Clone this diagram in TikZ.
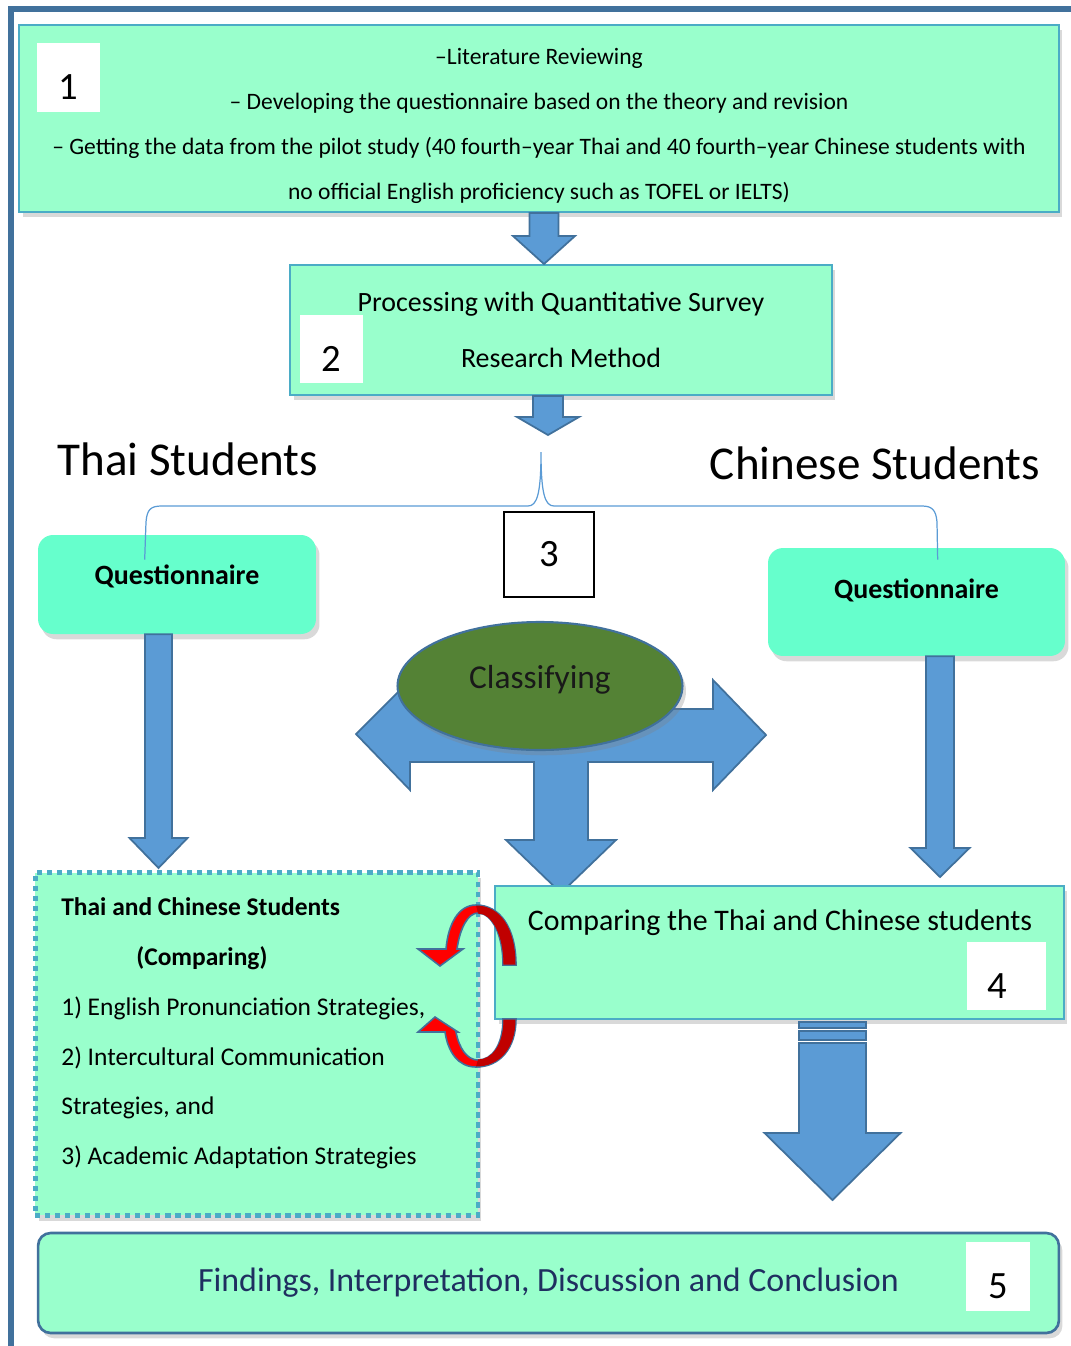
\documentclass[tikz,border=0pt]{standalone}
\usepackage{fontspec}
\setmainfont{Carlito}
\usetikzlibrary{shapes.geometric,shadows,calc,positioning}

\definecolor{mint}{HTML}{99FFCC}
\definecolor{aqua}{HTML}{66FFCC}
\definecolor{edgeblue}{HTML}{4BACC6}
\definecolor{steel}{HTML}{41719C}
\definecolor{arrowblue}{HTML}{5B9BD5}
\definecolor{leaf}{HTML}{548235}
\definecolor{navy}{HTML}{1F2F60}
\definecolor{loopred}{HTML}{FF0000}
\definecolor{loopdark}{HTML}{C00000}

\tikzset{
	softshadow/.style={drop shadow={opacity=0.3, shadow xshift=2pt, shadow yshift=-3pt}},
	stagebox/.style={draw=edgeblue, line width=1.1pt, fill=mint, softshadow},
	askbox/.style={fill=aqua, rounded corners=0.3cm, softshadow},
	numbox/.style={fill=white, inner sep=0pt},
	numtext/.style={font=\fontsize{22}{22}\selectfont, yshift=-0.2cm},
	groupfont/.style={font=\fontsize{26.8}{26.8}\selectfont},
	askfont/.style={font=\fontsize{15.9}{15.9}\selectfont\bfseries},
	blockarrow/.style={draw=steel, line width=1pt, fill=arrowblue},
	bracket/.style={draw=arrowblue, line width=0.7pt},
	loop/.style={draw=steel, line width=0.9pt, fill=loopred}
}

% vertical block arrow: from, to, shaft half width, head half width, head length
\newcommand{\blockdown}[5]{%
	\draw[blockarrow] ($(#1)+(-#3,0)$) -- ($(#2)+(-#3,-#5)$) -- ($(#2)+(-#4,-#5)$) -- (#2)
		-- ($(#2)+(#4,-#5)$) -- ($(#2)+(#3,-#5)$) -- ($(#1)+(#3,0)$) -- cycle;}

\begin{document}
\begin{tikzpicture}[x=0.02cm, y=-0.02cm]
	\useasboundingbox (0,0) rectangle (1071,1346);
	\draw[steel, line width=3pt] (11,1346) -- (11,9) -- (1071,9);

	% stage 1
	\node[stagebox, minimum width=20.8cm, minimum height=3.74cm] (box1) at (539,118.5) {};
	\node[font=\fontsize{13.4}{25.7}\selectfont, align=center] (t1) at (539,126)
		{–Literature Reviewing\\ – Developing the questionnaire based on the theory and revision\\ – Getting the data from the pilot study (40 fourth–year Thai and 40 fourth–year Chinese students with\\ no official English proficiency such as TOFEL or IELTS)};
	\node[numbox, minimum width=1.26cm, minimum height=1.38cm, label={[numtext]center:1}] (n1) at (68.5,77.5) {};

	% stage 2
	\node[stagebox, minimum width=10.84cm, minimum height=2.6cm, align=center, font=\fontsize{15.9}{31.7}\selectfont] (box2) at (561,330)
		{Processing with Quantitative Survey\\ Research Method};
	\node[numbox, minimum width=1.26cm, minimum height=1.36cm, label={[numtext]center:2}] (n2) at (331.5,349) {};

	\coordinate (t12) at (544,264);
	\coordinate (s12) at (box1.south -| t12);
	\blockdown{s12}{t12}{14.5}{31}{28}
	\coordinate (t23) at (548,435);
	\coordinate (s23) at (box2.south -| t23);
	\blockdown{s23}{t23}{15}{31}{18}

	% stage 3
	\node[groupfont] (thai) at (188,459) {Thai Students};
	\node[groupfont] (chinese) at (875,463) {Chinese Students};

	\node[askbox, minimum width=5.56cm, minimum height=1.98cm,
		label={[askfont, yshift=0.16cm]center:Questionnaire}] (qthai) at (177,584.5) {};
	\node[askbox, minimum width=5.94cm, minimum height=2.16cm,
		label={[askfont, yshift=0.24cm]center:Questionnaire}] (qchin) at (916.5,602) {};

	\coordinate (top3) at (541,452);
	\coordinate (bl) at ($(qthai.north west)+(107,25)$);
	\coordinate (br) at ($(qchin.north west)+(170,12)$);
	\draw[bracket] (bl) -- (146,522) .. controls (147,509) and (151,506) .. (162,506) -- (528,506)
		.. controls (537,506) and (541,494) .. (top3) .. controls (541,494) and (545,506) .. (554,506)
		-- (922,506) .. controls (932,506) and (936,510) .. (937,522) -- (br);

	\node[draw, fill=white, line width=0.8pt, minimum width=1.8cm, minimum height=1.7cm,
		font=\fontsize{22}{22}\selectfont] (n3) at (549,554.5) {3};

	\coordinate (tq1) at (158.5,868);
	\coordinate (sq1) at (qthai.south -| tq1);
	\blockdown{sq1}{tq1}{13.5}{29}{30}
	\coordinate (tq2) at (940,877);
	\coordinate (sq2) at (qchin.south -| tq2);
	\blockdown{sq2}{tq2}{14}{29.5}{29}

	% three way arrow under the ellipse
	\draw[blockarrow] (356,734) -- (410,680) -- (410,709) -- (713,709) -- (713,680) -- (766,735)
		-- (713,790) -- (713,762) -- (588,762) -- (588,840) -- (616,840) -- (561,893) -- (506,840)
		-- (534,840) -- (534,762) -- (410,762) -- (410,790) -- cycle;
	\node[ellipse, draw=steel, line width=1.2pt, fill=leaf, minimum width=5.7cm, minimum height=2.56cm, softshadow,
		label={[font=\fontsize{19}{19}\selectfont, text=black!90, yshift=0.12cm]center:Classifying}] (classify) at (540,686) {};

	% comparing block
	\node[stagebox, line width=2.8pt, dash pattern=on 3pt off 2.7pt, minimum width=8.86cm, minimum height=6.86cm] (cmp) at (256.5,1044) {};
	\node[anchor=west, align=left, inner sep=0pt, font=\fontsize{14.5}{28.3}\selectfont] (cmptext) at (61,1033.5)
		{\textbf{Thai and Chinese Students}\\ \hspace*{1.5cm}\textbf{(Comparing)}\\ 1) English Pronunciation Strategies,\\
		2) Intercultural Communication\\ Strategies, and\\ 3) Academic Adaptation Strategies};

	% stage 4
	\node[stagebox, minimum width=11.38cm, minimum height=2.66cm] (box4) at (779.5,952.5) {};
	\node[font=\fontsize{17}{17}\selectfont] (t4) at (780,923) {Comparing the Thai and Chinese students};
	\node[numbox, minimum width=1.58cm, minimum height=1.36cm, label={[numtext, xshift=-0.18cm]center:4}] (n4) at (1006.5,976) {};

	\draw[blockarrow, line width=0.8pt] (799,1022) rectangle (866,1028);
	\draw[blockarrow, line width=0.8pt] (799,1031) rectangle (866,1040);
	\coordinate (t45) at (832.5,1200);
	\coordinate (s45) at (832.5,1043);
	\blockdown{s45}{t45}{33.5}{68}{67}

	% stage 5
	\node[stagebox, draw=steel, line width=1.5pt, rounded corners=0.25cm, minimum width=20.42cm, minimum height=2cm,
		font=\fontsize{19.3}{19.3}\selectfont, text=navy] (box5) at (548.5,1283) {Findings, Interpretation, Discussion and Conclusion};
	\node[numbox, minimum width=1.28cm, minimum height=1.38cm, label={[numtext]center:5}] (n5) at (998,1276.5) {};

	% loops between the comparing blocks
	\draw[loop] (516,965) .. controls (516,928) and (500,905) .. (476,905) .. controls (458,905) and (448,925) .. (446,949)
		-- (418,949) -- (440,966) -- (463,949) -- (457,949) .. controls (460,928) and (468,913) .. (478,913)
		.. controls (492,913) and (503,935) .. (503,965) -- cycle;
	\fill[loopdark] (515.5,964.5) .. controls (515.5,928) and (500,905.5) .. (476,905.5) -- (478,913.5)
		.. controls (492,913.5) and (503.5,935) .. (503.5,964.5) -- cycle;
	\draw[loop] (516,1019) .. controls (516,1048) and (500,1067) .. (476,1067) .. controls (458,1067) and (448,1052) .. (445,1032)
		-- (418,1032) -- (435,1017) -- (458,1032) -- (456,1032) .. controls (459,1048) and (467,1060) .. (478,1060)
		.. controls (492,1060) and (503,1045) .. (503,1019) -- cycle;
	\fill[loopdark] (515.5,1019.5) .. controls (515.5,1048) and (500,1066.5) .. (476,1066.5) -- (478,1059.5)
		.. controls (492,1059.5) and (503.5,1045) .. (503.5,1019.5) -- cycle;
\end{tikzpicture}
\end{document}
